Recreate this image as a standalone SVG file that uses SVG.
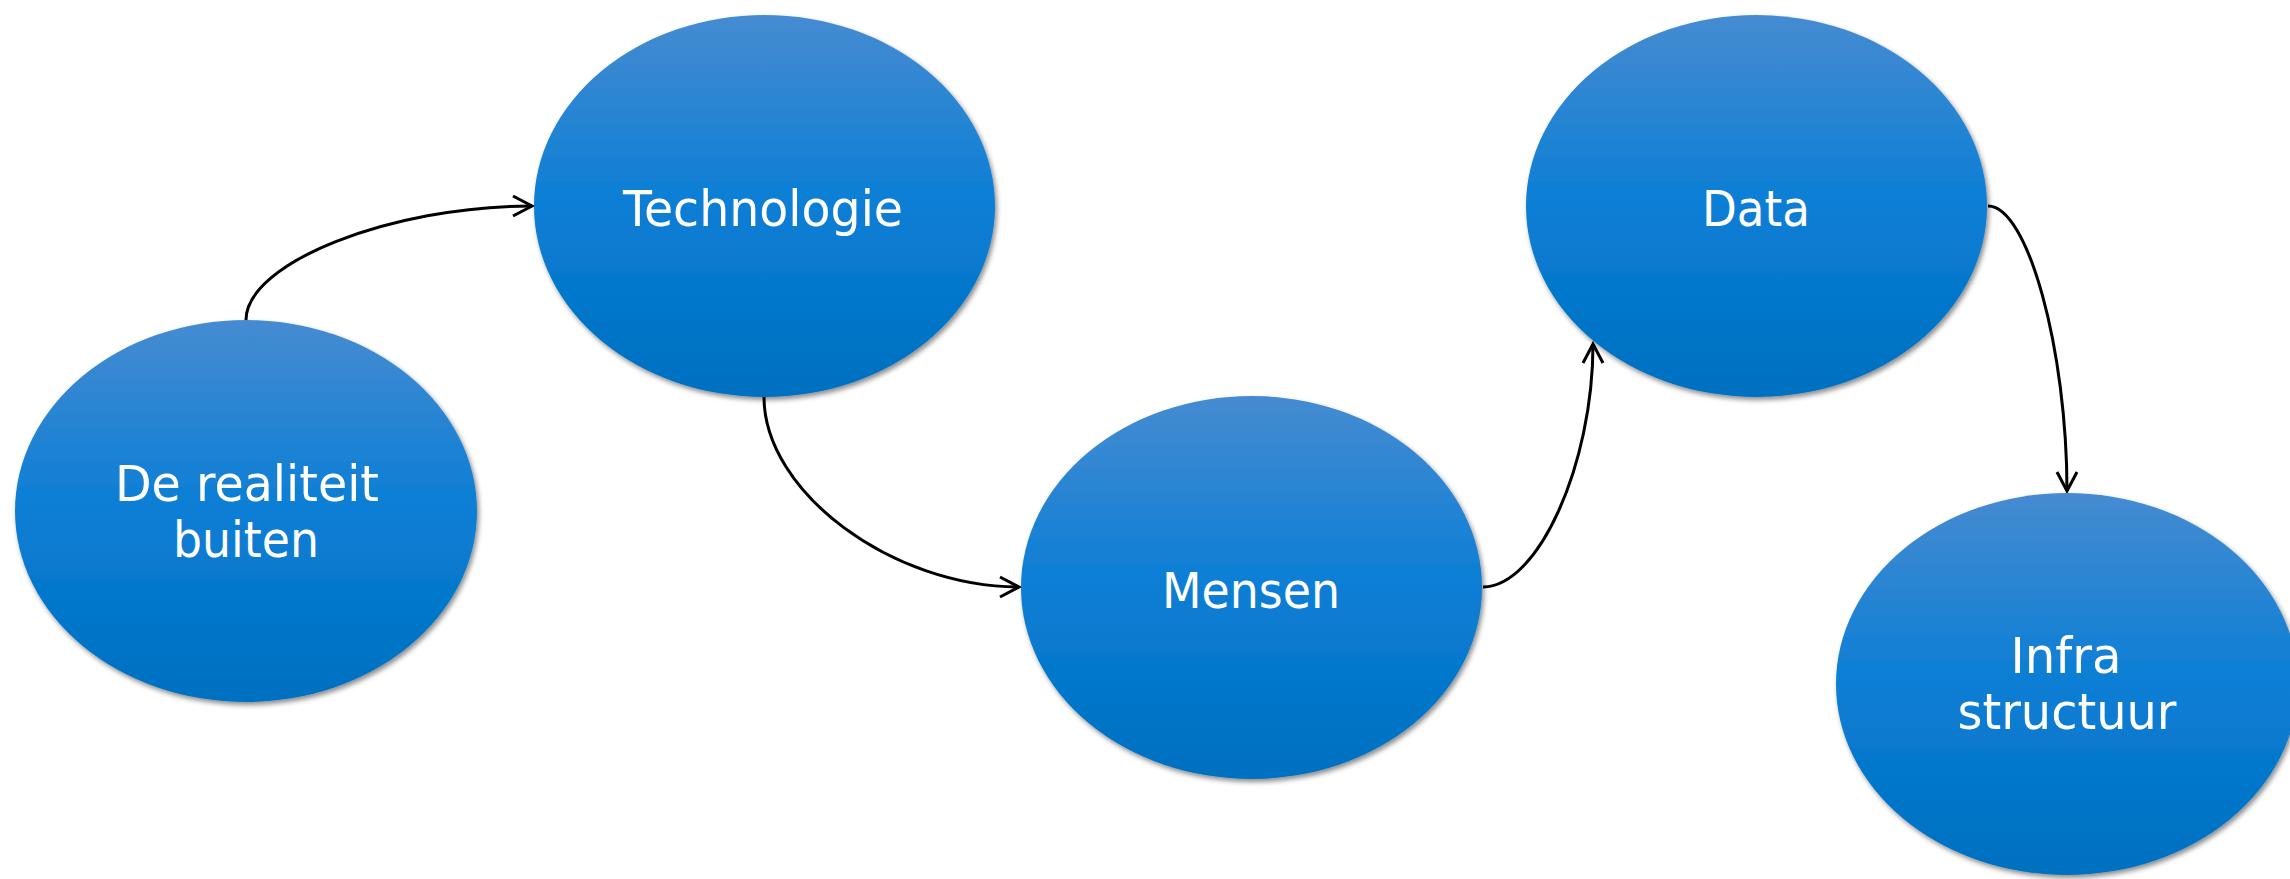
<svg xmlns="http://www.w3.org/2000/svg" width="2290" height="879" viewBox="0 0 2290 879">
  <style>
    .node { fill: url(#blueFill); filter: url(#soft); }
    .label { font-family: "DejaVu Sans", Verdana, sans-serif; font-size: 50px; fill: #ffffff; text-anchor: middle; }
    .link { fill: none; stroke: #000000; stroke-width: 3; marker-end: url(#openArrow); }
  </style>
  <defs>
    <linearGradient id="blueFill" x1="0" y1="0" x2="0" y2="1">
      <stop offset="0" stop-color="#468bd1"/>
      <stop offset="0.5" stop-color="#0a7ed5"/>
      <stop offset="1" stop-color="#0070c0"/>
    </linearGradient>
    <filter id="soft" x="-10%" y="-10%" width="125%" height="125%">
      <feDropShadow dx="2" dy="3" stdDeviation="2.5" flood-color="#000000" flood-opacity="0.45"/>
    </filter>
    <marker id="openArrow" viewBox="-22 -12 26 24" markerWidth="26" markerHeight="24" refX="0" refY="0" orient="auto" markerUnits="userSpaceOnUse">
      <path d="M-19,-10 L0,0 L-19,10" fill="none" stroke="#000000" stroke-width="3"/>
    </marker>
  </defs>

  <rect width="2290" height="879" fill="#ffffff"/>

  <g id="connectors">
    <path class="link" d="M246,320 C246,263 390,206 532,206"/>
    <path class="link" d="M764,397 C764,492 892,587 1019,587"/>
    <path class="link" d="M1483,587 C1538,587 1593,465 1593,344"/>
    <path class="link" d="M1988,206 C2028,206 2067,350 2067,491"/>
  </g>

  <g id="node-realiteit">
    <ellipse class="node" cx="246" cy="511" rx="231" ry="191"/>
    <text class="label" x="247" y="501" textLength="264" lengthAdjust="spacingAndGlyphs">De realiteit</text>
    <text class="label" x="246" y="557" textLength="146" lengthAdjust="spacingAndGlyphs">buiten</text>
  </g>

  <g id="node-technologie">
    <ellipse class="node" cx="764.5" cy="206" rx="230.5" ry="191"/>
    <text class="label" x="763" y="226" textLength="280" lengthAdjust="spacingAndGlyphs">Technologie</text>
  </g>

  <g id="node-mensen">
    <ellipse class="node" cx="1251.5" cy="587.5" rx="230.5" ry="191.5"/>
    <text class="label" x="1251" y="608" textLength="178" lengthAdjust="spacingAndGlyphs">Mensen</text>
  </g>

  <g id="node-data">
    <ellipse class="node" cx="1756.5" cy="206" rx="230.5" ry="191"/>
    <text class="label" x="1756" y="226" textLength="108" lengthAdjust="spacingAndGlyphs">Data</text>
  </g>

  <g id="node-infrastructuur">
    <ellipse class="node" cx="2067" cy="684" rx="231" ry="191"/>
    <text class="label" x="2066" y="673" textLength="111" lengthAdjust="spacingAndGlyphs">Infra</text>
    <text class="label" x="2067" y="729" textLength="219" lengthAdjust="spacingAndGlyphs">structuur</text>
  </g>
</svg>
